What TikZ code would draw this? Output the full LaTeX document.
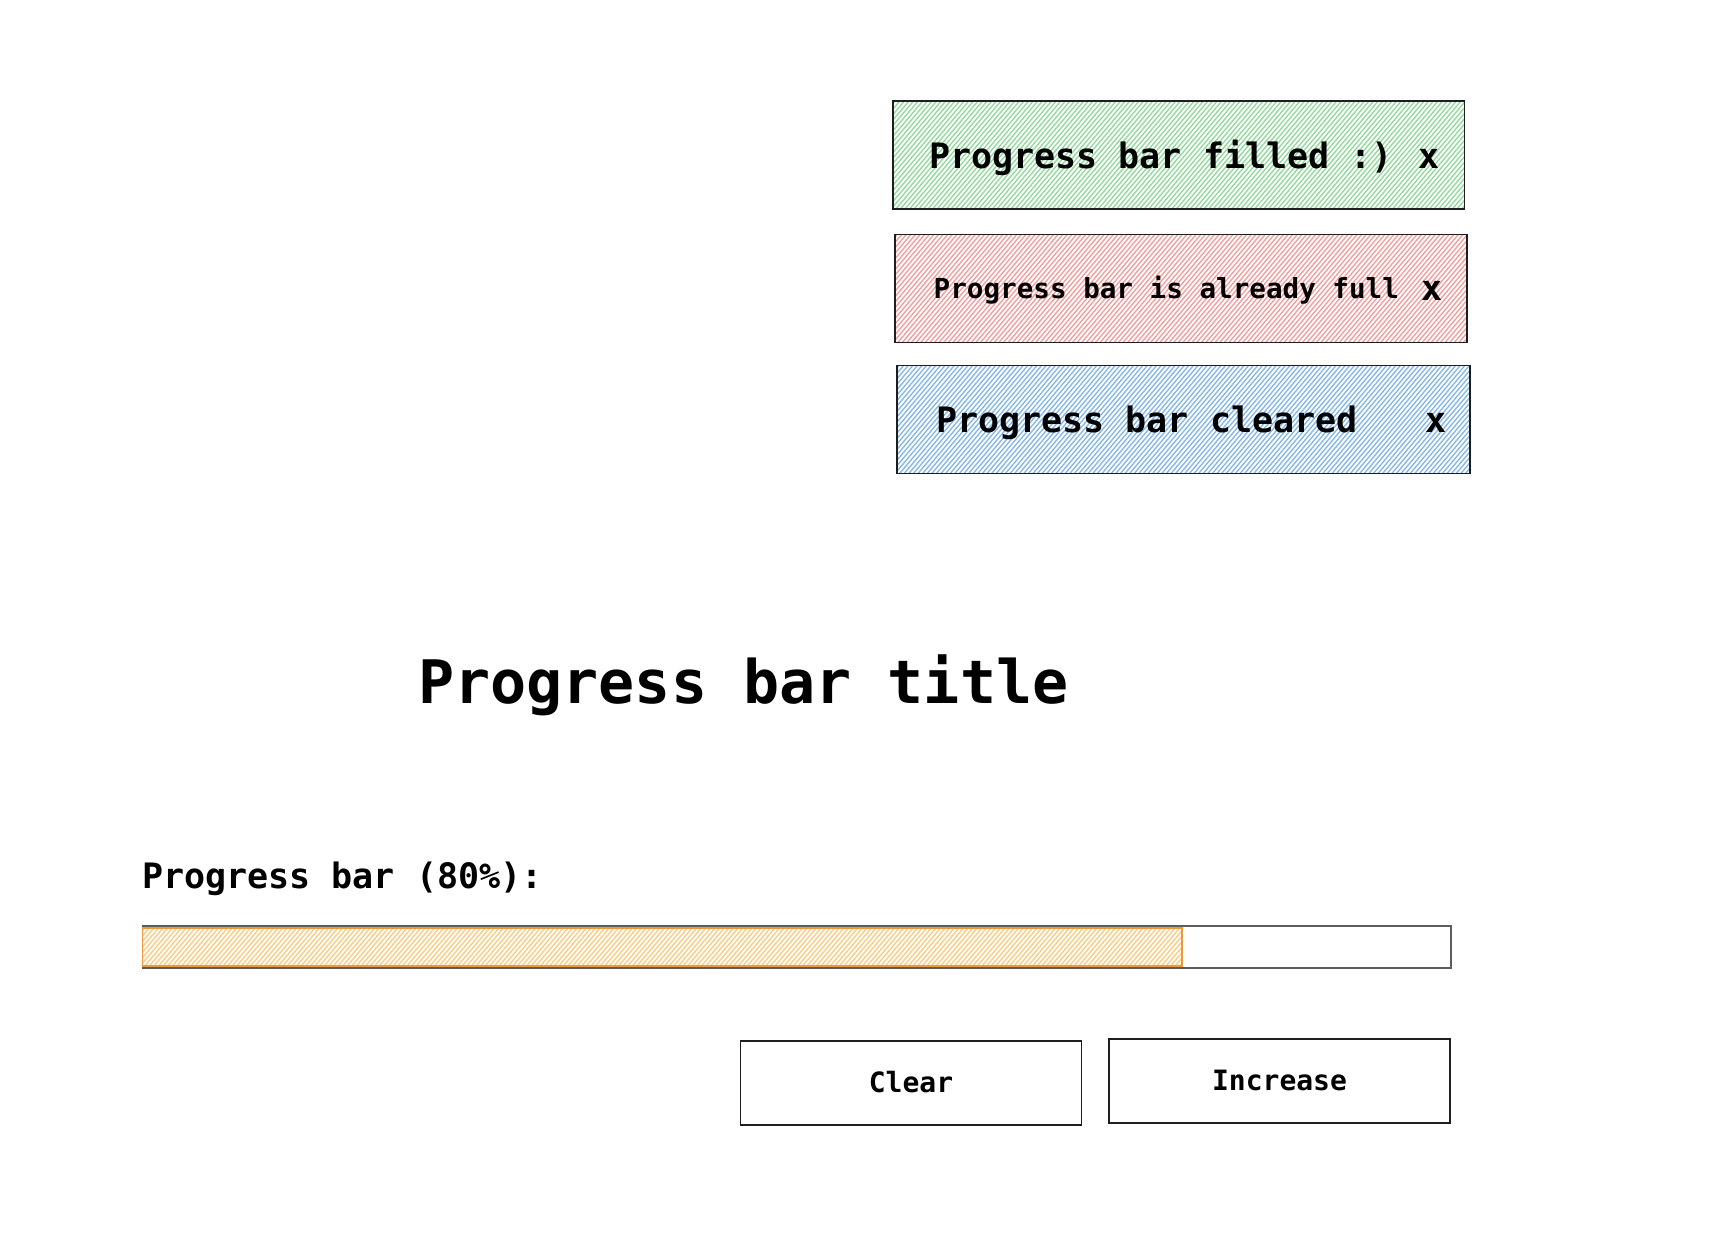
\documentclass[tikz,border=0pt]{standalone}
\usepackage{fontspec}
\setmonofont{DejaVu Sans Mono}
\definecolor{ink}{HTML}{1E1E1E}
\definecolor{gray1}{HTML}{5C5C5C}
\definecolor{hgreen}{HTML}{96DAA0}
\definecolor{hred}{HTML}{F3A0A0}
\definecolor{hblue}{HTML}{88B9EA}
\definecolor{horange}{HTML}{F9CD85}
\definecolor{sorange}{HTML}{EE9A3A}
\tikzset{
  x=1pt, y=-1pt,
  hatch/.style={path picture={
      \foreach \t in {0,...,300}
        \draw[#1, line width=1.4pt]
          ([xshift={\t*4.6pt-140pt}]path picture bounding box.south west) -- ++(110pt,130pt);
  }},
  toast/.style={draw=ink, line width=1.8pt, minimum width=#1, minimum height=108pt, inner sep=0pt},
  button/.style={draw=ink, line width=1.8pt, minimum height=84pt, minimum width=341pt, inner sep=0pt},
  txt/.style={anchor=base west, inner sep=0pt, text=black, font=#1},
}
\newcommand{\fs}[1]{\ttfamily\bfseries\fontsize{#1}{#1}\selectfont}
\begin{document}
\begin{tikzpicture}
\useasboundingbox (0,0) rectangle (1720,1258);
\fill[white] (0,0) rectangle (1720,1258);

% toasts
\node[toast=571.5pt, hatch=hgreen] (tgreen) at (1178.75,155.25) {};
\node[toast=571.5pt, hatch=hred] (tred) at (1180.85,288.5) {};
\node[toast=573pt, hatch=hblue] (tblue) at (1183.5,419.5) {};

\node[txt=\fs{35}] (tgreentxt) at (929,168) {Progress bar filled :)};
\node[txt=\fs{35}] (tgreenx) at (1418,168) {x};
\node[txt=\fs{27.6}] (tredtxt) at (933.5,298) {Progress bar is already full};
\node[txt=\fs{35}] (tredx) at (1421,300) {x};
\node[txt=\fs{35}] (tbluetxt) at (936,432) {Progress bar cleared};
\node[txt=\fs{35}] (tbluex) at (1425,432) {x};

% title
\node[txt=\fs{60}] (title) at (418,703) {Progress bar title};

% progress label
\node[txt=\fs{35}] (plabel) at (142,888) {Progress bar (80\%):};

% progress bar
\node[draw=gray1, line width=1.8pt, minimum width=1308.5pt, minimum height=42pt, inner sep=0pt, anchor=north west] (bar) at (141.5,925) {};
\node[draw=sorange, line width=1.6pt, minimum width=1039.5pt, minimum height=38pt, inner sep=0pt, anchor=north west, hatch=horange] (fill) at (141.5,927) {};

% buttons
\node[button] (clear) at (911,1083) {};
\node[txt=\fs{28}, anchor=base] (cleartxt) at (911,1092) {Clear};
\node[button] (incr) at (1279.5,1081) {};
\node[txt=\fs{28}, anchor=base] (incrtxt) at (1279.5,1090) {Increase};
\end{tikzpicture}
\end{document}
